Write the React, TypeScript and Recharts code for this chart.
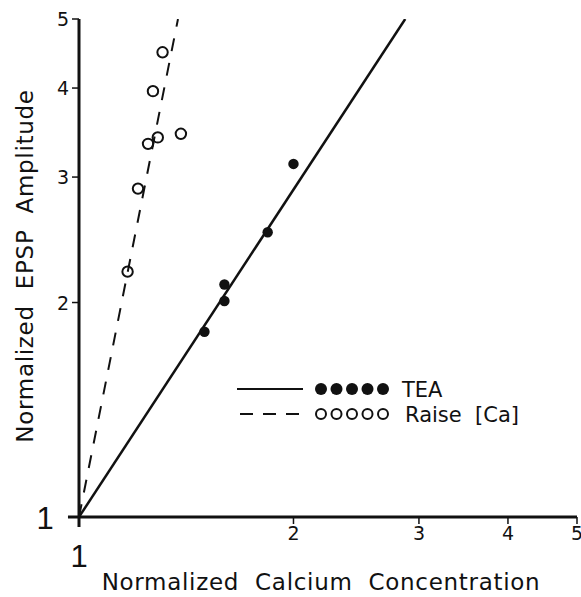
import React from 'react';
import { ScatterChart, Scatter, XAxis, YAxis, ReferenceLine, Legend } from 'recharts';

// Observed points
const teaX = [1.5, 1.6, 1.6, 1.84, 2.0];
const teaY = [1.82, 2.01, 2.12, 2.51, 3.13];
const caX = [1.17, 1.21, 1.25, 1.29, 1.39, 1.27, 1.31];
const caY = [2.21, 2.89, 3.34, 3.41, 3.45, 3.96, 4.49];
// Fitted lines
const teaFitX = [1, 2.87];
const teaFitY = [1, 5];
const caFitX = [1, 1.377];
const caFitY = [1, 5];
const ticks = [1, 2, 3, 4, 5];
const xTitle = 'Normalized\u00a0\u00a0Calcium\u00a0\u00a0Concentration';
const yTitle = 'Normalized\u00a0\u00a0EPSP\u00a0\u00a0Amplitude';
const legendItems = ['TEA', 'Raise\u00a0\u00a0[Ca]'];

const zip = (xs: number[], ys: number[]) => xs.map((x, i) => ({ x, y: ys[i] }));
const teaData = zip(teaX, teaY);
const caData = zip(caX, caY);
const teaFit = zip(teaFitX, teaFitY);
const caFit = zip(caFitX, caFitY);

const FONT = '"DejaVu Sans", sans-serif';
const ONE_FONT = '"Liberation Sans", sans-serif';

const XTick = (props: any) => {
  const { x, y, payload } = props;
  if (payload.value === 1) {
    return (
      <text x={x} y={y + 41} textAnchor="middle" fontFamily={ONE_FONT} fontSize={31} fill="#111">1</text>
    );
  }
  return (
    <text x={x} y={y + 14} textAnchor="middle" fontFamily={FONT} fontSize={19} fill="#111">{payload.value}</text>
  );
};

const YTick = (props: any) => {
  const { x, y, payload } = props;
  if (payload.value === 1) {
    return (
      <text x={45} y={y + 12} textAnchor="middle" fontFamily={ONE_FONT} fontSize={31} fill="#111">1</text>
    );
  }
  return (
    <text x={x - 1} y={y + 7} textAnchor="end" fontFamily={FONT} fontSize={19} fill="#111">{payload.value}</text>
  );
};

const XTitle = () => (
  <text x={321} y={590} textAnchor="middle" fontFamily={FONT} fontSize={23} letterSpacing={0.7} fill="#111">{xTitle}</text>
);
const YTitle = () => (
  <text x={33} y={266} transform="rotate(-90 33 266)" textAnchor="middle" fontFamily={FONT} fontSize={23} letterSpacing={0.7} fill="#111">{yTitle}</text>
);

const Filled = (props: any) => <circle cx={props.cx} cy={props.cy} r={5.2} fill="#111" />;
const Open = (props: any) => <circle cx={props.cx} cy={props.cy} r={5.2} fill="none" stroke="#111" strokeWidth={2} />;
const NoShape = () => null;

const renderLegend = () => {
  const dots = [0, 1, 2, 3, 4];
  return (
    <svg width={360} height={60} style={{ display: 'block' }}>
      <line x1={7} x2={73} y1={14} y2={14} stroke="#111" strokeWidth={2} />
      {dots.map((i) => (
        <circle key={'f' + i} cx={91 + i * 15.5} cy={14} r={6} fill="#111" />
      ))}
      <text x={172} y={22} fontFamily={FONT} fontSize={21} fill="#111">{legendItems[0]}</text>
      <line x1={10} x2={70} y1={39} y2={39} stroke="#111" strokeWidth={2} strokeDasharray="13 10" />
      {dots.map((i) => (
        <circle key={'o' + i} cx={91 + i * 15.5} cy={39} r={5} fill="none" stroke="#111" strokeWidth={2} />
      ))}
      <text x={175} y={47} fontFamily={FONT} fontSize={21} fill="#111">{legendItems[1]}</text>
    </svg>
  );
};

export default function App() {
  return (
    <div style={{ position: 'absolute', left: 0, top: 0, background: '#fff' }}>
      <ScatterChart width={581} height={597} margin={{ top: 19, right: 4, bottom: 0, left: 0 }}>
        <XAxis
          dataKey="x"
          type="number"
          scale="log"
          domain={[1, 5]}
          ticks={ticks}
          allowDataOverflow
          axisLine={false}
          tickLine={{ stroke: '#111', strokeWidth: 1.5 }}
          tickSize={7}
          tick={<XTick />}
          height={80}
          label={{ content: <XTitle /> }}
        />
        <YAxis
          dataKey="y"
          type="number"
          scale="log"
          domain={[1, 5]}
          ticks={ticks}
          allowDataOverflow
          axisLine={false}
          tickLine={{ stroke: '#111', strokeWidth: 1.5 }}
          tickSize={7}
          tick={<YTick />}
          width={79}
          label={{ content: <YTitle /> }}
        />
        <ReferenceLine segment={[{ x: 0.965, y: 1 }, { x: 5, y: 1 }]} stroke="#111" strokeWidth={3} ifOverflow="visible" />
        <ReferenceLine segment={[{ x: 1, y: 0.968 }, { x: 1, y: 5 }]} stroke="#111" strokeWidth={3} ifOverflow="visible" />
        <Scatter data={teaFit} line={{ stroke: '#111', strokeWidth: 2.5 }} shape={<NoShape />} isAnimationActive={false} legendType="none" />
        <Scatter data={caFit} line={{ stroke: '#111', strokeWidth: 2, strokeDasharray: '13 12' }} shape={<NoShape />} isAnimationActive={false} legendType="none" />
        <Scatter data={teaData} shape={<Filled />} isAnimationActive={false} />
        <Scatter data={caData} shape={<Open />} isAnimationActive={false} />
        <Legend
          layout="horizontal"
          verticalAlign="middle"
          align="center"
          content={renderLegend}
          wrapperStyle={{ position: 'absolute', left: 230, top: 375, width: 360, height: 60 }}
        />
      </ScatterChart>
    </div>
  );
}
